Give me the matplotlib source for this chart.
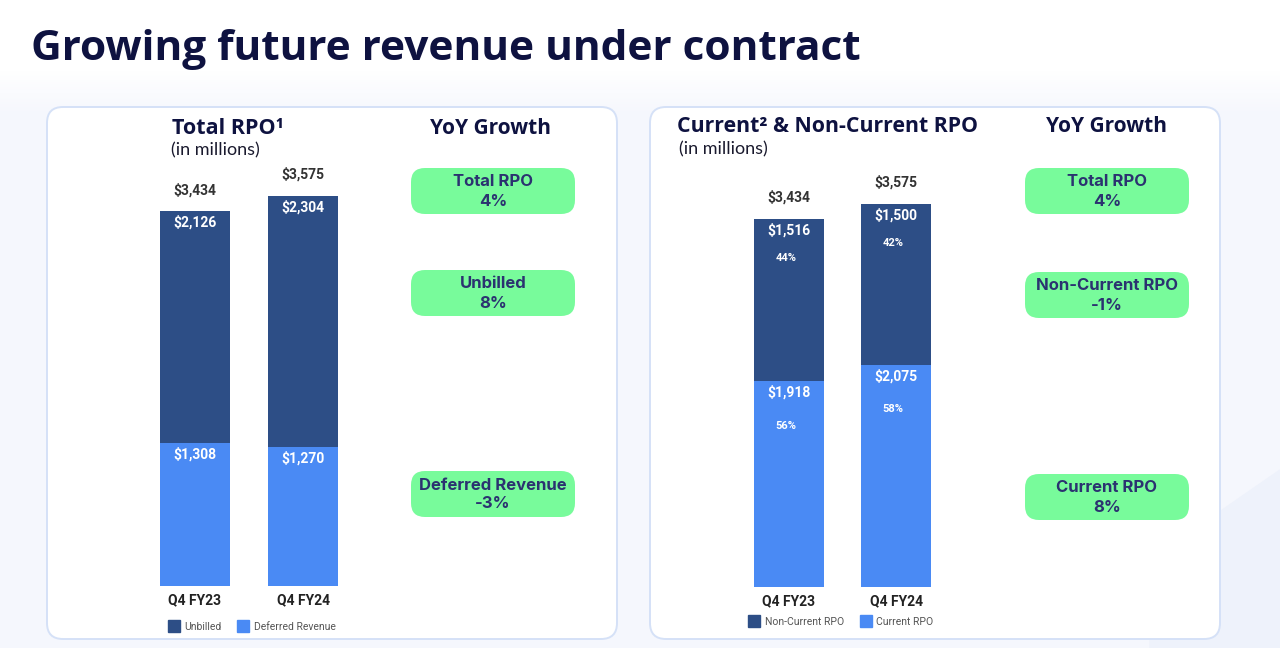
import matplotlib
matplotlib.use("Agg")
import matplotlib.pyplot as plt
import numpy as np
from matplotlib.patches import FancyBboxPatch, Polygon
from matplotlib.lines import Line2D
from matplotlib.colors import LinearSegmentedColormap

# data
quarters = ["Q4 FY23", "Q4 FY24"]
deferred = [1308, 1270]
unbilled = [2126, 2304]
current_rpo = [1918, 2075]
noncurrent_rpo = [1516, 1500]
current_pct = ["56%", "58%"]
noncurrent_pct = ["44%", "42%"]
totals = [3434, 3575]

left_growth = [("Total RPO", "4%"), ("Unbilled", "8%"), ("Deferred Revenue", "-3%")]
right_growth = [("Total RPO", "4%"), ("Non-Current RPO", "-1%"), ("Current RPO", "8%")]

DARK = "#2d4e86"
LIGHT = "#4a8af4"
NAVY = "#0e1240"
BOXTXT = "#2b3270"
GREEN = "#78fb9b"
HEAD = ["Open Sans", "DejaVu Sans"]

W, H = 1280, 648
fig = plt.figure(figsize=(W / 100, H / 100), dpi=100)
fig.patch.set_facecolor("#ffffff")

# background axes in pixel coords (y down)
bg = fig.add_axes([0, 0, 1, 1])
bg.set_xlim(0, W)
bg.set_ylim(H, 0)
bg.axis("off")
# soft vertical fade from white to the pale page colour
fade = LinearSegmentedColormap.from_list("fade", ["#ffffff", "#f5f7fd"])
grad = np.clip((np.arange(H) - 70) / 45.0, 0, 1).reshape(-1, 1)
bg.imshow(grad, cmap=fade, extent=(0, W, H, 0), aspect="auto", zorder=0)
bg.add_patch(Polygon([(1150, 560), (1280, 470), (1280, 648), (1150, 648)],
                     closed=True, color="#eef2fb", zorder=0))

bg.text(31, 50, "Growing future revenue under contract", fontsize=30.5,
        fontweight="bold", family=HEAD, color=NAVY, va="center", ha="left")


def card(x0, x1):
    bg.add_patch(FancyBboxPatch((x0, 107), x1 - x0, 532,
                                boxstyle="round,pad=0,rounding_size=16",
                                fc="white", ec="#d5e1f7", lw=1.4, zorder=1))


def pill(cx, cy, title, val):
    bg.add_patch(FancyBboxPatch((cx - 82, cy - 23), 164, 46,
                                boxstyle="round,pad=0,rounding_size=14",
                                fc=GREEN, ec="none", zorder=2))
    bg.text(cx, cy - 9, title, ha="center", va="center", fontsize=12,
            fontweight="bold", family="Inter", color=BOXTXT, zorder=3)
    bg.text(cx, cy + 10, val, ha="center", va="center", fontsize=12,
            fontweight="bold", family="Inter", color=BOXTXT, zorder=3)


card(47, 617)
card(650, 1220)

# left panel headings
bg.text(228, 128, "Total RPO¹", ha="center", va="center", fontsize=15.5,
        fontweight="bold", family=HEAD, color=NAVY, zorder=3)
bg.text(215, 150, "(in millions)", ha="center", va="center", fontsize=13,
        family="Lato", color="#1a1a2e", zorder=3)
bg.text(491, 128, "YoY Growth", ha="center", va="center", fontsize=15,
        fontweight="bold", family=HEAD, color=NAVY, zorder=3)

# right panel headings
bg.text(677, 127, "Current² & Non-Current RPO", ha="left", va="center", fontsize=15.3,
        fontweight="bold", family=HEAD, color=NAVY, zorder=3)
bg.text(679, 149, "(in millions)", ha="left", va="center", fontsize=13,
        family="Lato", color="#1a1a2e", zorder=3)
bg.text(1107, 127, "YoY Growth", ha="center", va="center", fontsize=15,
        fontweight="bold", family=HEAD, color=NAVY, zorder=3)

for (t, v), cy in zip(left_growth, [191, 293, 494]):
    pill(493, cy, t, v)
for (t, v), cy in zip(right_growth, [191, 295, 497]):
    pill(1107, cy, t, v)


def px_axes(x0, x1, ytop, ybot):
    return fig.add_axes([x0 / W, 1 - ybot / H, (x1 - x0) / W, (ybot - ytop) / H])


def bar_panel(ax, lower, upper, low_pct=None, up_pct=None, scale=0.1092, top_px=150, bot_px=586):
    ax.set_facecolor("none")
    ax.set_zorder(5)
    x = [0, 1]
    ax.bar(x, lower, width=0.648, color=LIGHT, zorder=2)
    ax.bar(x, upper, bottom=lower, width=0.648, color=DARK, zorder=2)
    ax.set_xlim(-0.648, 1.648)
    ax.set_ylim(0, (bot_px - top_px) / scale)
    for s in ax.spines.values():
        s.set_visible(False)
    ax.set_yticks([])
    ax.set_xticks(x)
    ax.set_xticklabels(quarters, fontsize=10, fontweight="bold", family="Roboto", color="#222222")
    ax.tick_params(axis="x", length=0, pad=5)
    for i in x:
        top = lower[i] + upper[i]
        ax.annotate(f"${totals[i]:,}", (i, top), xytext=(0, 10), textcoords="offset points",
                    ha="center", va="bottom", fontsize=10, fontweight="bold",
                    family="Roboto", color="#333333")
        ax.annotate(f"${upper[i]:,}", (i, top), xytext=(0, -3), textcoords="offset points",
                    ha="center", va="top", fontsize=10, fontweight="bold",
                    family="Roboto", color="white")
        ax.annotate(f"${lower[i]:,}", (i, lower[i]), xytext=(0, -3), textcoords="offset points",
                    ha="center", va="top", fontsize=10, fontweight="bold",
                    family="Roboto", color="white")
        if up_pct:
            ax.annotate(up_pct[i], (i, top), xytext=(-2, -28), textcoords="offset points",
                        ha="center", va="center", fontsize=8, fontweight="bold",
                        family="Roboto", color="white")
            ax.annotate(low_pct[i], (i, lower[i]), xytext=(-2, -32), textcoords="offset points",
                        ha="center", va="center", fontsize=8, fontweight="bold",
                        family="Roboto", color="white")


axl = px_axes(125, 373, 150, 586)
bar_panel(axl, deferred, unbilled)
axr = px_axes(719.5, 965.5, 150, 587)
bar_panel(axr, current_rpo, noncurrent_rpo, current_pct, noncurrent_pct, scale=0.1072, bot_px=587)


def legend(cx, cy, labels):
    handles = [Line2D([], [], marker="s", ls="none", markersize=8, color=DARK),
               Line2D([], [], marker="s", ls="none", markersize=8, color=LIGHT)]
    lg = fig.legend(handles, labels, loc="center", bbox_to_anchor=(cx / W, 1 - cy / H),
                    ncol=2, frameon=False, fontsize=7.5, handletextpad=0.5,
                    columnspacing=1.6, handlelength=1.0)
    for t in lg.get_texts():
        t.set_color("#555555")
        t.set_family("Roboto")


legend(252, 627, ["Unbilled", "Deferred Revenue"])
legend(841, 622, ["Non-Current RPO", "Current RPO"])

fig.savefig("out.png", dpi=100)
